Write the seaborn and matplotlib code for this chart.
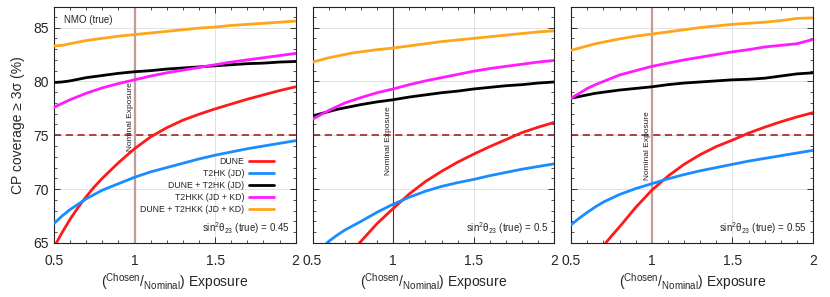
import matplotlib
matplotlib.use("Agg")
import matplotlib.pyplot as plt
import seaborn as sns
import pandas as pd
from matplotlib.ticker import MultipleLocator

# exposure ratio (chosen / nominal)
exposure = [0.5, 0.55, 0.6, 0.65, 0.7, 0.75, 0.8, 0.9, 1.0, 1.1,
            1.2, 1.3, 1.4, 1.5, 1.6, 1.7, 1.8, 1.9, 2.0]

experiments = ["DUNE", "T2HK (JD)", "DUNE + T2HK (JD)",
               "T2HKK (JD + KD)", "DUNE + T2HKK (JD + KD)"]
colors = ["#ff1a1a", "#1a8cff", "#000000", "#ff1aff", "#ffa51a"]

# sin^2 theta23 (true) = 0.45
dune_045 = [64.6, 65.95, 67.2, 68.3, 69.3, 70.2, 71.0, 72.45, 73.75, 74.85,
            75.7, 76.4, 76.95, 77.45, 77.9, 78.35, 78.75, 79.15, 79.5]
t2hk_045 = [66.8, 67.5, 68.1, 68.6, 69.1, 69.5, 69.9, 70.5, 71.1, 71.6,
            72.0, 72.4, 72.8, 73.15, 73.45, 73.75, 74.0, 74.25, 74.5]
dune_t2hk_045 = [79.9, 79.95, 80.05, 80.2, 80.35, 80.45, 80.55, 80.75, 80.9, 81.0,
                 81.15, 81.25, 81.35, 81.45, 81.55, 81.65, 81.7, 81.8, 81.85]
t2hkk_045 = [77.6, 77.95, 78.3, 78.6, 78.9, 79.15, 79.4, 79.8, 80.15, 80.5,
             80.8, 81.05, 81.3, 81.55, 81.8, 82.0, 82.2, 82.4, 82.6]
dune_t2hkk_045 = [83.3, 83.35, 83.5, 83.65, 83.8, 83.9, 84.0, 84.2, 84.35, 84.5,
                  84.65, 84.8, 84.95, 85.05, 85.2, 85.3, 85.4, 85.5, 85.6]

# sin^2 theta23 (true) = 0.5
dune_050 = [59.4, 60.5, 61.55, 62.55, 63.5, 64.35, 65.15, 66.8, 68.2, 69.55,
            70.7, 71.65, 72.5, 73.25, 73.95, 74.6, 75.25, 75.75, 76.2]
t2hk_050 = [63.7, 64.45, 65.15, 65.7, 66.2, 66.6, 67.0, 67.85, 68.6, 69.25,
            69.8, 70.25, 70.6, 70.9, 71.25, 71.55, 71.85, 72.1, 72.35]
dune_t2hk_050 = [76.8, 77.0, 77.2, 77.4, 77.55, 77.7, 77.85, 78.1, 78.3, 78.55,
                 78.75, 78.95, 79.1, 79.3, 79.45, 79.6, 79.7, 79.85, 79.95]
t2hkk_050 = [76.5, 76.9, 77.3, 77.65, 78.0, 78.25, 78.5, 78.95, 79.3, 79.7,
             80.05, 80.35, 80.65, 80.95, 81.2, 81.4, 81.6, 81.8, 81.95]
dune_t2hkk_050 = [81.8, 82.0, 82.2, 82.35, 82.5, 82.65, 82.75, 82.95, 83.1, 83.3,
                  83.5, 83.7, 83.85, 84.0, 84.15, 84.3, 84.45, 84.6, 84.7]

# sin^2 theta23 (true) = 0.55
dune_055 = [60.2, 61.5, 62.7, 63.8, 64.75, 65.65, 66.5, 68.3, 69.9, 71.2,
            72.3, 73.2, 73.95, 74.55, 75.2, 75.75, 76.25, 76.7, 77.1]
t2hk_055 = [66.7, 67.3, 67.85, 68.35, 68.8, 69.15, 69.5, 70.05, 70.5, 70.95,
            71.35, 71.7, 72.0, 72.3, 72.6, 72.85, 73.1, 73.35, 73.6]
dune_t2hk_055 = [78.45, 78.6, 78.75, 78.9, 79.0, 79.1, 79.2, 79.35, 79.5, 79.7,
                 79.85, 79.95, 80.05, 80.15, 80.2, 80.3, 80.5, 80.7, 80.8]
t2hkk_055 = [78.45, 78.9, 79.35, 79.7, 80.0, 80.3, 80.6, 81.0, 81.4, 81.7,
             82.0, 82.25, 82.5, 82.75, 82.95, 83.2, 83.35, 83.5, 83.9]
dune_t2hkk_055 = [82.9, 83.1, 83.3, 83.5, 83.65, 83.8, 83.95, 84.2, 84.4, 84.6,
                  84.8, 85.0, 85.15, 85.3, 85.4, 85.5, 85.65, 85.85, 85.9]

panels = [
    ("0.45", [dune_045, t2hk_045, dune_t2hk_045, t2hkk_045, dune_t2hkk_045]),
    ("0.5", [dune_050, t2hk_050, dune_t2hk_050, t2hkk_050, dune_t2hkk_050]),
    ("0.55", [dune_055, t2hk_055, dune_t2hk_055, t2hkk_055, dune_t2hkk_055]),
]

sns.set_theme(style="ticks")
plt.rcParams["font.family"] = ["Liberation Sans", "DejaVu Sans"]
plt.rcParams["mathtext.default"] = "regular"

fig, axes = plt.subplots(1, 3, figsize=(8.3, 2.97), dpi=100, sharey=True)
fig.subplots_adjust(left=0.065, right=0.9795, bottom=0.182, top=0.976, wspace=0.07)

palette = dict(zip(experiments, colors))
# (vertical line colour, width, y of the "Nominal Exposure" label)
nominal_style = [("#c49a9a", 1.6, 76.7), ("#8b1a1a", 0.8, 74.5), ("#c49a9a", 1.6, 74.0)]

for i, (ax, (s23, series)) in enumerate(zip(axes, panels)):
    rows = []
    for name, vals in zip(experiments, series):
        for x, v in zip(exposure, vals):
            rows.append({"exposure": x, "coverage": v, "experiment": name})
    df = pd.DataFrame(rows)

    ax.grid(True, color="#dcdcdc", linewidth=0.6)
    ax.set_axisbelow(True)

    lc, lw, ty = nominal_style[i]
    ax.axvline(1.0, color=lc, linewidth=lw, zorder=1)
    ax.axhline(75, color="#a83232", linewidth=1.3, linestyle=(0, (4, 2.5)), zorder=1)

    sns.lineplot(data=df, x="exposure", y="coverage", hue="experiment",
                 hue_order=experiments, palette=palette, linewidth=2,
                 ax=ax, legend=(i == 0), zorder=3)

    ax.text(0.995, ty, "Nominal Exposure", rotation=90, fontsize=6,
            ha="right", va="center", color="#222222")

    ax.set_xlim(0.5, 2.0)
    ax.set_ylim(65, 86.9)
    ax.set_xticks([0.5, 1.0, 1.5, 2.0])
    ax.set_xticklabels(["0.5", "1", "1.5", "2"])
    ax.set_yticks([65, 70, 75, 80, 85])
    ax.xaxis.set_minor_locator(MultipleLocator(0.1))
    ax.yaxis.set_minor_locator(MultipleLocator(1))
    ax.tick_params(which="both", direction="in", top=True, right=True,
                   labelsize=10, color="#333333")
    ax.tick_params(axis="x", which="major", pad=8)
    ax.tick_params(which="major", length=4, width=0.7)
    ax.tick_params(which="minor", length=2.5, width=0.6)
    for sp in ax.spines.values():
        sp.set_linewidth(0.8)
        sp.set_color("#222222")

    ax.set_xlabel(r"($^{Chosen}/_{Nominal}$) Exposure", fontsize=10, labelpad=2)
    ax.set_ylabel("CP coverage ≥ 3σ (%)" if i == 0 else "", fontsize=10, labelpad=6)

    ax.text(0.975, 0.065, r"sin$^2\theta_{23}$ (true) = " + s23, fontsize=7,
            ha="right", va="center", transform=ax.transAxes)

    if i == 0:
        ax.text(0.04, 0.945, "NMO (true)", fontsize=7, ha="left", va="center",
                transform=ax.transAxes)
        handles, labels = ax.get_legend_handles_labels()
        ax.legend(handles, labels, loc="lower right", bbox_to_anchor=(0.935, 0.095),
                  frameon=False, fontsize=6.3, markerfirst=False,
                  handlelength=2.8, labelspacing=0.35, borderpad=0.2,
                  handletextpad=0.6)

plt.savefig("out.png", dpi=100)
